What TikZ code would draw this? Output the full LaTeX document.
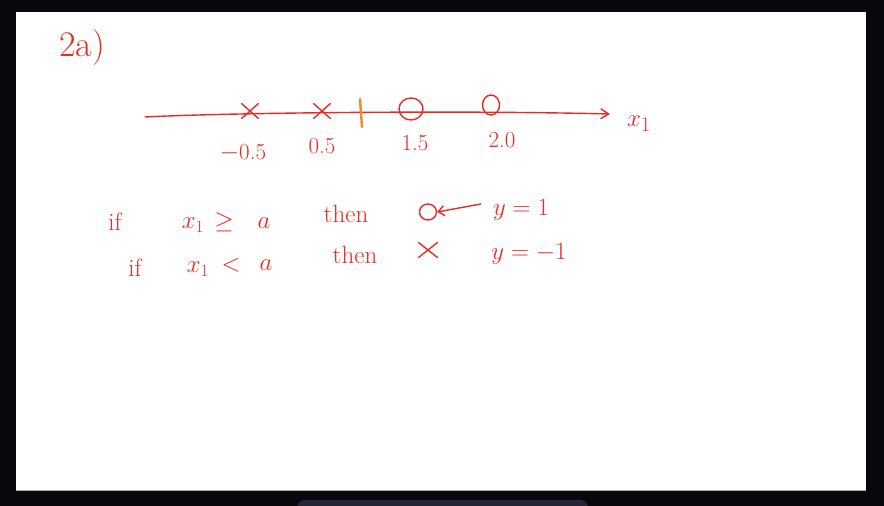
\documentclass[tikz,border=0pt]{standalone}
\usetikzlibrary{arrows.meta,shapes.geometric,shapes.misc}
\definecolor{hred}{RGB}{232,44,36}
\definecolor{horange}{RGB}{240,140,40}
\definecolor{frameblack}{RGB}{8,8,12}
\definecolor{barnavy}{RGB}{34,38,56}
\begin{document}
\begin{tikzpicture}[x=1pt,y=-1pt,
  hand/.style={text=hred, inner sep=0pt, font=\fontsize{25}{30}\selectfont},
  num/.style={text=hred, inner sep=0pt, font=\fontsize{23}{28}\selectfont},
  xmark/.style={draw=hred, cross out, line width=1.4pt, minimum width=16pt, minimum height=14pt, inner sep=0pt},
  omark/.style={draw=hred, ellipse, line width=1.4pt, inner sep=0pt},
  pen/.style={draw=hred, line width=1.4pt, line cap=round}]
\useasboundingbox (0,0) rectangle (884,506);
% frame
\fill[frameblack] (0,0) rectangle (884,506);
\fill[white] (16,12) rectangle (866,490);
\draw[gray!70, line width=1pt] (16,490) -- (866,490);
\fill[barnavy, rounded corners=8pt] (297,500) rectangle (588,516);
% title
\node[hand, font=\fontsize{36}{42}\selectfont] (title) at (82,48) {2a)};
% axis
\coordinate (axs) at (145,117);
\coordinate (axe) at (610,114);
\draw[pen, -{Straight Barb[length=8pt,width=10pt]}] (axs) .. controls (220,113) and (450,110) .. (axe);
\node[hand, font=\fontsize{28}{32}\selectfont] (axlab) at (639,124) {$x_1$};
% markers
\node[xmark] (m1) at (250,111) {};
\node[xmark] (m2) at (322,111) {};
\coordinate (tkt) at (360,99);
\coordinate (tkb) at (362,127);
\draw[draw=horange, line width=2.4pt, line cap=round] (tkt) -- (tkb);
\node[omark, minimum width=24pt, minimum height=22pt] (o1) at (411,109) {};
\node[omark, minimum width=17pt, minimum height=20pt] (o2) at (491,105) {};
% tick labels
\node[num] (l1) at (243,153) {$-$0.5};
\node[num] (l2) at (322,146) {0.5};
\node[num] (l3) at (415,143) {1.5};
\node[num] (l4) at (502,140) {2.0};
% row 1
\node[hand] (if1) at (115,222) {if};
\node[hand] (xa) at (193,225) {$x_1$};
\node[hand] (ge) at (224,222) {$\geq$};
\node[hand] (a1) at (264,223) {$a$};
\node[hand] (then1) at (346,214) {then};
\node[omark, minimum width=17pt, minimum height=16pt] (o3) at (428,212) {};
\node[hand] (y1) at (521,210) {$y = 1$};
\draw[pen, -{Straight Barb[length=6pt,width=10pt]}] (y1.west) ++(-12,-6) coordinate (arrs) -- (o3.east);
% row 2
\node[hand] (if2) at (135,268) {if};
\node[hand] (xb) at (198,269) {$x_1$};
\node[hand] (lt) at (231,265) {$<$};
\node[hand] (a2) at (266,265) {$a$};
\node[hand] (then2) at (355,255) {then};
\node[xmark, minimum width=18pt, minimum height=14pt] (m3) at (428,250) {};
\node[hand] (y2) at (529,254) {$y = -1$};
\end{tikzpicture}
\end{document}
